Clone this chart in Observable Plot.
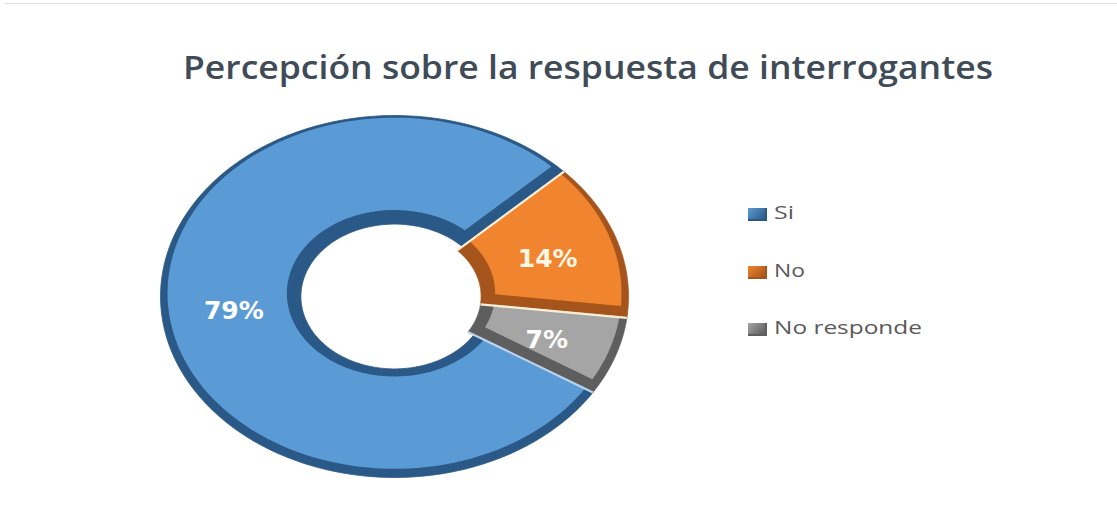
<!DOCTYPE html>
<html>
<head>
<meta charset="utf-8">
<script src="https://cdn.jsdelivr.net/npm/d3@7"></script>
<script src="https://cdn.jsdelivr.net/npm/@observablehq/plot@0.6"></script>
<style>
  body { margin: 0; background: #ffffff; }
  #wrap { position: relative; width: 1117px; height: 512px; overflow: hidden; background: #fff; }
  #frame { position: absolute; left: 5px; right: 0; top: 3px; height: 1px; background: #dedede; }
  #title { height: 112px; position: relative; }
  #title span { position: absolute; left: 183px; top: 50px; font-family: "Open Sans", sans-serif; font-weight: 600;
    font-size: 33px; line-height: 33px; color: #404b58; white-space: nowrap; transform-origin: 0 0; }
  .lg-mark { position: absolute; width: 19px; height: 13px; box-sizing: border-box; }
  .lg-text { position: absolute; font-family: "Open Sans", sans-serif; font-size: 19px; line-height: 19px;
    color: #595959; white-space: nowrap; transform-origin: 0 0; }
</style>
</head>
<body>
<div id="wrap">
  <div id="frame"></div>
  <div id="title"><span id="titleText">Percepción sobre la respuesta de interrogantes</span></div>
  <div id="chart"></div>
  <div id="legend"></div>
</div>
<script>
// ---- data ----
const categories = ["Si", "No", "No responde"];
const values = [79, 14, 7];
const labels = ["79%", "14%", "7%"];
const mainColors = ["#5b9bd5", "#f0842f", "#a5a5a5"];
const darkColors = ["#2b5987", "#a5551b", "#5e5e5e"];
const labelColors = ["#ffffff", "#fff6e4", "#ffffff"];
const startDeg = 122;

// ---- geometry (donut units) ----
const rOut = 1;
const rIns = [0.40, 0.37, 0.37];
const W = 1117, H = 400;
const cxPx = 394, cyPx = 184, sx = 234, sy = 181;
const xDomain = [-cxPx / sx, (W - cxPx) / sx];
const yDomain = [-(H - cyPx) / sy, cyPx / sy];

const a0 = startDeg * Math.PI / 180;
const arcs = d3.pie().sort(null).startAngle(a0).endAngle(a0 + 2 * Math.PI)(values);

function ringPoints(s, e, r0, r1, eS, eE, dy, key) {
  const pts = [];
  const n = 120;
  const s1 = s + eS / r1, e1 = e - eE / r1;
  for (let i = 0; i <= n; i++) {
    const a = s1 + (e1 - s1) * i / n;
    pts.push({x: r1 * Math.sin(a), y: r1 * Math.cos(a) + dy, key});
  }
  const s0 = s + eS / r0, e0 = e - eE / r0;
  for (let i = n; i >= 0; i--) {
    const a = s0 + (e0 - s0) * i / n;
    pts.push({x: r0 * Math.sin(a), y: r0 * Math.cos(a) + dy, key});
  }
  pts.push({...pts[0]});
  return pts;
}

const marks = [];
arcs.forEach((arc, i) => {
  const base = ringPoints(arc.startAngle, arc.endAngle, rIns[i], rOut, 0, 0, 0, categories[i]);
  marks.push(Plot.line(base, {x: "x", y: "y", fill: darkColors[i], stroke: darkColors[i], strokeWidth: 0.8, strokeLinejoin: "round"}));
});
arcs.forEach((arc, i) => {
  const top = ringPoints(arc.startAngle, arc.endAngle, rIns[i] + 0.06, rOut - 0.03, 0.012, 0.045, 0.018, categories[i]);
  marks.push(Plot.line(top, {x: "x", y: "y", fill: mainColors[i], stroke: "none"}));
});
// light separators along slice boundaries
const seps = [];
arcs.forEach((arc, i) => {
  const a = arc.startAngle;
  const r0 = Math.min(rIns[i], rIns[(i + 2) % 3]);
  seps.push({x1: r0 * Math.sin(a), y1: r0 * Math.cos(a), x2: rOut * Math.sin(a), y2: rOut * Math.cos(a),
    c: i === 0 ? "#b9d3ec" : "#fbf0d6"});
});
marks.push(Plot.link(seps, {x1: "x1", y1: "y1", x2: "x2", y2: "y2", stroke: "c", strokeWidth: 2.2}));

const labelData = arcs.map((arc, i) => {
  const m = (arc.startAngle + arc.endAngle) / 2;
  return {x: 0.69 * Math.sin(m), y: 0.69 * Math.cos(m), text: labels[i], color: labelColors[i]};
});
marks.push(Plot.text(labelData, {x: "x", y: "y", text: "text", fill: "color", fontSize: 25, fontWeight: "bold",
  fontFamily: "DejaVu Sans, Verdana, sans-serif", textAnchor: "middle", dy: 2}));

const chart = Plot.plot({
  width: W, height: H,
  margin: 0,
  x: {domain: xDomain, axis: null},
  y: {domain: yDomain, axis: null},
  style: {background: "transparent", overflow: "visible"},
  marks
});
document.getElementById("chart").appendChild(chart);

// ---- legend ----
const legend = document.getElementById("legend");
const legendTops = [220, 278, 335];  // text baselines (px, page coords)
const legendWidths = [20, 31, 148];
categories.forEach((c, i) => {
  const m = document.createElement("div");
  m.className = "lg-mark";
  m.style.left = "748px";
  m.style.top = (legendTops[i] - 12) + "px";
  m.style.background = `linear-gradient(135deg, ${mainColors[i]} 0%, ${darkColors[i]} 100%)`;
  m.style.borderRight = `2px solid ${darkColors[i]}`;
  m.style.borderBottom = `2px solid ${darkColors[i]}`;
  legend.appendChild(m);
  const t = document.createElement("div");
  t.className = "lg-text";
  t.textContent = c;
  t.style.left = "774px";
  t.style.top = (legendTops[i] - 17) + "px";
  legend.appendChild(t);
  const w = t.getBoundingClientRect().width;
  if (w > 0) t.style.transform = `scaleX(${legendWidths[i] / w})`;
});

// fit title width
const tt = document.getElementById("titleText");
const tw = tt.getBoundingClientRect().width;
if (tw > 0) tt.style.transform = `scaleX(${810 / tw})`;
</script>
</body>
</html>
